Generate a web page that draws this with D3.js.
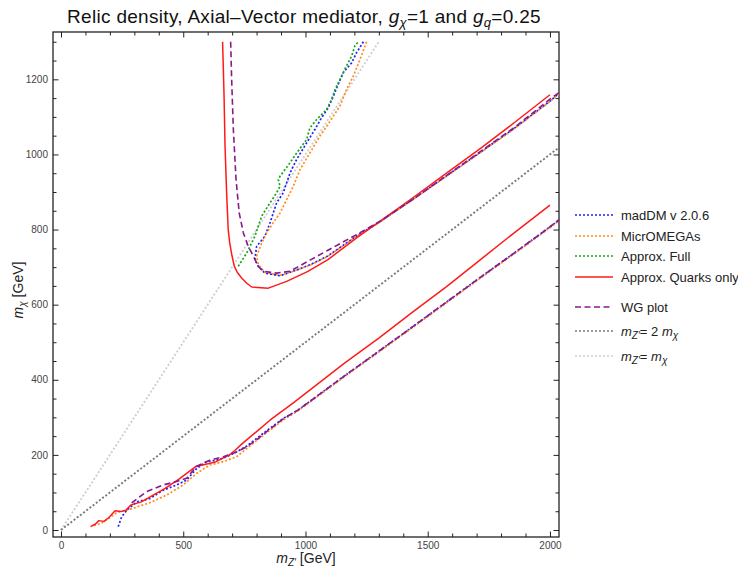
<!DOCTYPE html>
<html>
<head>
<meta charset="utf-8">
<script src="https://cdn.jsdelivr.net/npm/d3@7"></script>
<style>
  body { margin: 0; background: #fff; }
  svg { font-family: "Liberation Sans", Arial, sans-serif; }
</style>
</head>
<body>
<div id="chart"></div>
<script>
// [mZ', mX] pairs, GeV
const madDMUpper = [[1237,1300],[1209,1271],[1189,1244],[1155,1218],[1134,1187],[1114,1155],[1093,1124],[1066,1098],[1039,1067],[1005,1031],[964,987],[937,951],[909,898],[882,871],[855,818],[834,782],[800,755],[793,720],[807,702],[834,684],[896,677],[950,689],[1022,707],[1092,730],[1216,786],[1300,819],[1438,880],[1577,943],[1716,1006],[1855,1070],[2000,1142],[2040,1164]]
const madDMLower = [[234,9],[248,35],[269,53],[310,75],[364,84],[418,106],[473,120],[514,133],[555,164],[596,182],[637,186],[678,195],[718,208],[759,223],[800,244],[855,271],[909,297],[971,320],[1161,411],[1300,476],[1438,541],[1577,607],[1716,673],[1855,738],[2000,807],[2040,827]]

const microUpper = [[1250,1300],[1223,1253],[1196,1209],[1168,1173],[1141,1129],[1114,1102],[1087,1075],[1059,1049],[1018,1004],[978,960],[950,915],[923,880],[896,844],[868,818],[841,791],[821,764],[800,729],[807,707],[834,686],[896,678],[950,689],[1022,706],[1092,729],[1216,785],[1300,818],[1438,879],[1577,942],[1716,1005],[1855,1069],[2000,1141],[2040,1163]]
const microLower = [[135,12],[165,18],[200,33],[225,45],[241,49],[296,58],[364,73],[432,93],[500,120],[555,151],[609,173],[664,182],[718,195],[760,217],[800,238],[855,266],[909,293],[971,318],[1161,409],[1300,474],[1438,539],[1577,605],[1716,671],[1855,736],[2000,805],[2040,825]]

const fullUpper = [[725,702],[760,738],[793,782],[821,836],[855,871],[882,898],[896,915],[889,933],[896,942],[937,978],[964,1004],[1005,1040],[1018,1071],[1046,1093],[1087,1120],[1107,1147],[1121,1173],[1148,1209],[1168,1236],[1189,1262],[1202,1289],[1216,1300]]

const quarksUpper = [[661,1300],[667,1155],[671,1022],[678,889],[684,800],[690,765],[698,735],[709,702],[722,685],[739,671],[760,657],[780,647],[848,644],[923,662],[1008,688],[1092,720],[1216,781],[1300,820],[1438,884],[1577,950],[1716,1016],[1855,1085],[2000,1159]]
const quarksLower = [[121,9],[141,16],[155,25],[176,23],[197,34],[221,51],[245,49],[266,53],[287,67],[329,75],[370,90],[426,111],[481,135],[551,169],[606,177],[634,182],[689,200],[710,211],[745,232],[800,262],[856,293],[953,340],[1161,445],[1300,511],[1438,580],[1577,648],[1716,720],[1855,792],[2000,865]]

const wgUpper = [[694,1300],[698,1200],[705,1067],[716,933],[729,844],[746,791],[766,755],[787,729],[807,702],[827,689],[882,684],[937,689],[967,700],[1092,745],[1216,789],[1300,820],[1438,880],[1577,944],[1716,1008],[1855,1072],[2000,1147],[2040,1166]]
const wgLower = [[289,72],[315,85],[350,102],[418,120],[473,129],[514,138],[555,170],[609,186],[664,195],[718,208],[760,222],[800,240],[855,269],[909,296],[971,320],[1161,411],[1300,476],[1438,541],[1577,607],[1716,673],[1855,738],[2000,807],[2040,828]]

const twiceLine = [[0,0],[2040,1020]]
const equalLine = [[0,0],[1300,1300]]

const xMajor = [0, 500, 1000, 1500, 2000]
const yMajor = [0, 200, 400, 600, 800, 1000, 1200]

const series = [
  { label: "lightgray", color: "#cfcfcf", dash: "2,2", width: 1.9, lines: [equalLine] },
  { label: "gray", color: "#7a7a7a", dash: "2,2", width: 1.9, lines: [twiceLine] },
  { label: "madDM", color: "#1f1fff", dash: "2,2", width: 1.7, lines: [madDMUpper, madDMLower] },
  { label: "micro", color: "#ff8c1a", dash: "2,2", width: 1.7, lines: [microUpper, microLower] },
  { label: "full", color: "#13a813", dash: "2,2", width: 1.7, lines: [fullUpper] },
  { label: "quarks", color: "#ff1a1a", dash: null, width: 1.5, lines: [quarksUpper, quarksLower] },
  { label: "wg", color: "#8a1a8a", dash: "6,3.5", width: 1.6, lines: [wgUpper, wgLower] }
]

const width = 738, height = 570
const frame = { left: 53, right: 559, top: 32, bottom: 537 }

const x = d3.scaleLinear().domain([-32.7, 2037]).range([frame.left, frame.right])
const y = d3.scaleLinear().domain([-18.6, 1326]).range([frame.bottom, frame.top])

const svg = d3.select("#chart").append("svg")
  .attr("width", width)
  .attr("height", height)

svg.append("defs").append("clipPath")
  .attr("id", "plot-clip")
  .append("rect")
    .attr("x", frame.left)
    .attr("y", frame.top)
    .attr("width", frame.right - frame.left)
    .attr("height", frame.bottom - frame.top)

// ticks on all four sides, pointing inward
const minorX = d3.range(0, 2001, 100).filter(v => !xMajor.includes(v))
const minorY = d3.range(0, 1301, 50).filter(v => !yMajor.includes(v))

function styleAxis(g) {
  g.select(".domain").remove()
  g.selectAll(".tick line").attr("stroke", "#222").attr("stroke-width", 1)
  g.selectAll(".tick text").attr("fill", "#444").style("font-size", "10px")
}

svg.append("g")
  .attr("transform", `translate(0,${frame.bottom})`)
  .call(d3.axisBottom(x).tickValues(xMajor).tickSize(-5.5).tickPadding(5).tickFormat(d3.format("d")))
  .call(styleAxis)
svg.append("g")
  .attr("transform", `translate(0,${frame.bottom})`)
  .call(d3.axisBottom(x).tickValues(minorX).tickSize(-3.5).tickFormat(""))
  .call(styleAxis)
svg.append("g")
  .attr("transform", `translate(0,${frame.top})`)
  .call(d3.axisTop(x).tickValues(xMajor).tickSize(-5.5).tickFormat(""))
  .call(styleAxis)
svg.append("g")
  .attr("transform", `translate(0,${frame.top})`)
  .call(d3.axisTop(x).tickValues(minorX).tickSize(-3.5).tickFormat(""))
  .call(styleAxis)

svg.append("g")
  .attr("transform", `translate(${frame.left},0)`)
  .call(d3.axisLeft(y).tickValues(yMajor).tickSize(-5.5).tickPadding(5).tickFormat(d3.format("d")))
  .call(styleAxis)
svg.append("g")
  .attr("transform", `translate(${frame.left},0)`)
  .call(d3.axisLeft(y).tickValues(minorY).tickSize(-3.5).tickFormat(""))
  .call(styleAxis)
svg.append("g")
  .attr("transform", `translate(${frame.right},0)`)
  .call(d3.axisRight(y).tickValues(yMajor).tickSize(-5.5).tickFormat(""))
  .call(styleAxis)
svg.append("g")
  .attr("transform", `translate(${frame.right},0)`)
  .call(d3.axisRight(y).tickValues(minorY).tickSize(-3.5).tickFormat(""))
  .call(styleAxis)

svg.append("rect")
  .attr("x", frame.left)
  .attr("y", frame.top)
  .attr("width", frame.right - frame.left)
  .attr("height", frame.bottom - frame.top)
  .attr("fill", "none")
  .attr("stroke", "#222")
  .attr("stroke-width", 1.3)

const line = d3.line()
  .x(d => x(d[0]))
  .y(d => y(d[1]))

const plot = svg.append("g").attr("clip-path", "url(#plot-clip)")

series.forEach(s => {
  s.lines.forEach(pts => {
    plot.append("path")
      .datum(pts)
      .attr("fill", "none")
      .attr("stroke", s.color)
      .attr("stroke-width", s.width)
      .attr("stroke-dasharray", s.dash)
      .attr("stroke-linejoin", "round")
      .attr("d", line)
  })
})

// title
const title = svg.append("text")
  .attr("x", 304)
  .attr("y", 23)
  .attr("text-anchor", "middle")
  .attr("fill", "#111")
  .style("font-size", "19px")
  .style("letter-spacing", "0.3px")
title.append("tspan").text("Relic density, Axial\u2013Vector mediator, ")
title.append("tspan").attr("font-style", "italic").text("g")
title.append("tspan").attr("font-style", "italic").attr("font-size", "13px").attr("dy", 4).text("\u03c7")
title.append("tspan").attr("dy", -4).text("=1 and ")
title.append("tspan").attr("font-style", "italic").text("g")
title.append("tspan").attr("font-style", "italic").attr("font-size", "13px").attr("dy", 4).text("q")
title.append("tspan").attr("dy", -4).text("=0.25")

// axis labels
const xLabel = svg.append("text")
  .attr("x", 306)
  .attr("y", 563)
  .attr("text-anchor", "middle")
  .attr("fill", "#222")
  .style("font-size", "14px")
xLabel.append("tspan").attr("font-style", "italic").text("m")
xLabel.append("tspan").attr("font-style", "italic").attr("font-size", "10px").attr("dy", 3).text("Z\u2032")
xLabel.append("tspan").attr("dy", -3).text(" [GeV]")

const yLabel = svg.append("text")
  .attr("transform", "translate(23,290) rotate(-90)")
  .attr("text-anchor", "middle")
  .attr("fill", "#222")
  .style("font-size", "14px")
yLabel.append("tspan").attr("font-style", "italic").text("m")
yLabel.append("tspan").attr("font-style", "italic").attr("font-size", "10px").attr("dy", 3).text("\u03c7")
yLabel.append("tspan").attr("dy", -3).text(" [GeV]")

// legend
const legendItems = [
  { color: "#1f1fff", dash: "2,2", parts: [["madDM v 2.0.6"]] },
  { color: "#ff8c1a", dash: "2,2", parts: [["MicrOMEGAs"]] },
  { color: "#13a813", dash: "2,2", parts: [["Approx. Full"]] },
  { color: "#ff1a1a", dash: null, parts: [["Approx. Quarks only"]] },
  { color: "#8a1a8a", dash: "6,3.5", parts: [["WG plot"]] },
  { color: "#7a7a7a", dash: "2,2", parts: [["m", "i"], ["Z\u2032", "s"], ["= 2 "], ["m", "i"], ["\u03c7", "s"]] },
  { color: "#cfcfcf", dash: "2,2", parts: [["m", "i"], ["Z\u2032", "s"], ["= "], ["m", "i"], ["\u03c7", "s"]] }
]
const legendY = [215, 236, 256, 277, 307, 331, 356]

const legend = svg.append("g")
legendItems.forEach((item, i) => {
  const g = legend.append("g").attr("transform", `translate(575,${legendY[i]})`)
  g.append("line")
    .attr("x1", 0).attr("x2", 38)
    .attr("stroke", item.color)
    .attr("stroke-width", 1.6)
    .attr("stroke-dasharray", item.dash)
  const t = g.append("text")
    .attr("x", 46)
    .attr("y", 4.5)
    .attr("fill", "#222")
    .style("font-size", "13px")
  let shift = 0
  item.parts.forEach(([txt, kind]) => {
    const sp = t.append("tspan").text(txt)
    if (kind === "i" || kind === "s") sp.attr("font-style", "italic")
    if (kind === "s") {
      sp.attr("font-size", "10px").attr("dy", 3 - shift)
      shift = 3
    } else if (shift) {
      sp.attr("dy", -shift)
      shift = 0
    }
  })
})
</script>
</body>
</html>
